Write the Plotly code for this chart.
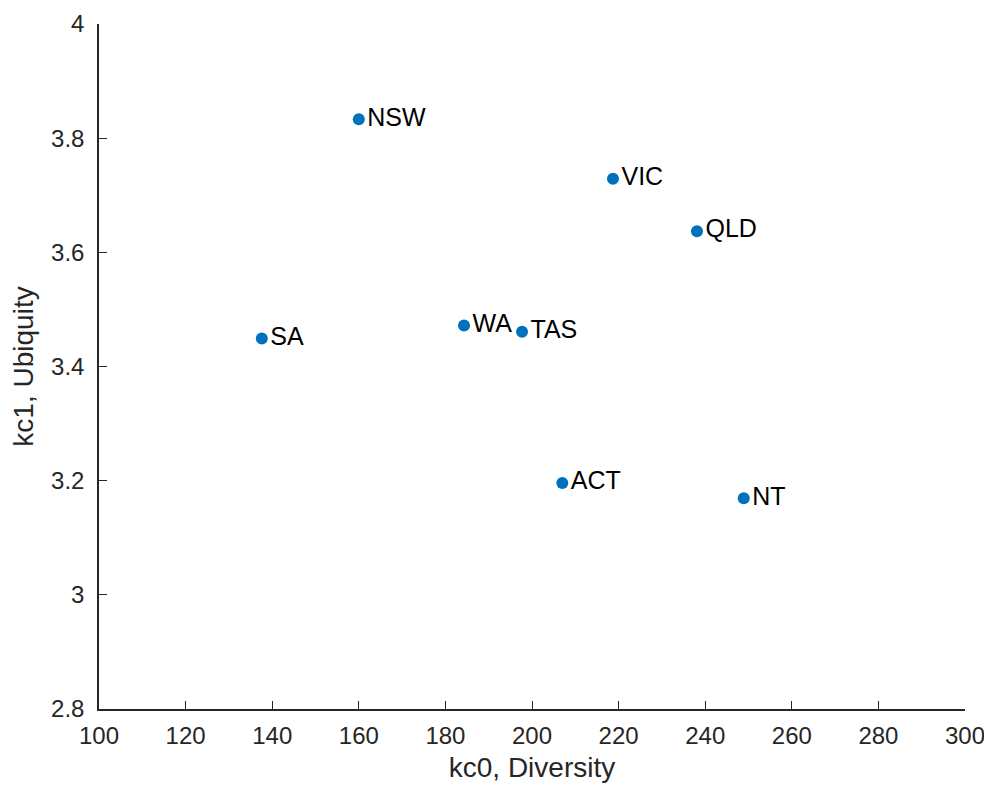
import plotly.graph_objects as go

states = ["NSW", "VIC", "QLD", "SA", "WA", "TAS", "ACT", "NT"]
diversity = [160.0, 218.7, 238.1, 137.6, 184.3, 197.7, 207.0, 248.9]
ubiquity = [3.833, 3.729, 3.637, 3.449, 3.472, 3.461, 3.196, 3.169]

x_ticks = [100, 120, 140, 160, 180, 200, 220, 240, 260, 280, 300]
y_ticks = [2.8, 3.0, 3.2, 3.4, 3.6, 3.8, 4.0]
y_tick_text = ["2.8", "3", "3.2", "3.4", "3.6", "3.8", "4"]

FONT = "Liberation Sans, Arial, sans-serif"
AXC = "#262626"

fig = go.Figure(go.Scatter(
    x=diversity, y=ubiquity, mode="markers+text",
    text=states, textposition="middle right",
    marker=dict(color="#0072BD", size=12),
    textfont=dict(family=FONT, size=25, color="#000000"),
    cliponaxis=False,
))

fig.update_layout(
    width=984, height=782,
    margin=dict(l=91, r=27, t=16, b=81, autoexpand=False),
    paper_bgcolor="white", plot_bgcolor="white",
    showlegend=False,
    font=dict(family=FONT, color=AXC),
    xaxis=dict(
        range=[100, 300], tickvals=x_ticks, ticks="inside", ticklen=8,
        tickcolor=AXC, showline=True, linecolor=AXC, linewidth=1.5,
        showgrid=False, zeroline=False, tickfont=dict(size=24, color=AXC),
        ticklabelstandoff=4, automargin=False,
        title=dict(text="kc0, Diversity", font=dict(size=28, color=AXC), standoff=10),
    ),
    yaxis=dict(
        range=[2.8, 4.0], tickvals=y_ticks, ticktext=y_tick_text, ticks="inside",
        ticklen=8, tickcolor=AXC, showline=True, linecolor=AXC, linewidth=1.5,
        showgrid=False, zeroline=False, tickfont=dict(size=24, color=AXC),
        ticklabelstandoff=8, automargin=False,
        title=dict(text="kc1, Ubiquity", font=dict(size=28, color=AXC), standoff=14),
    ),
)

fig.write_html("out.html")
